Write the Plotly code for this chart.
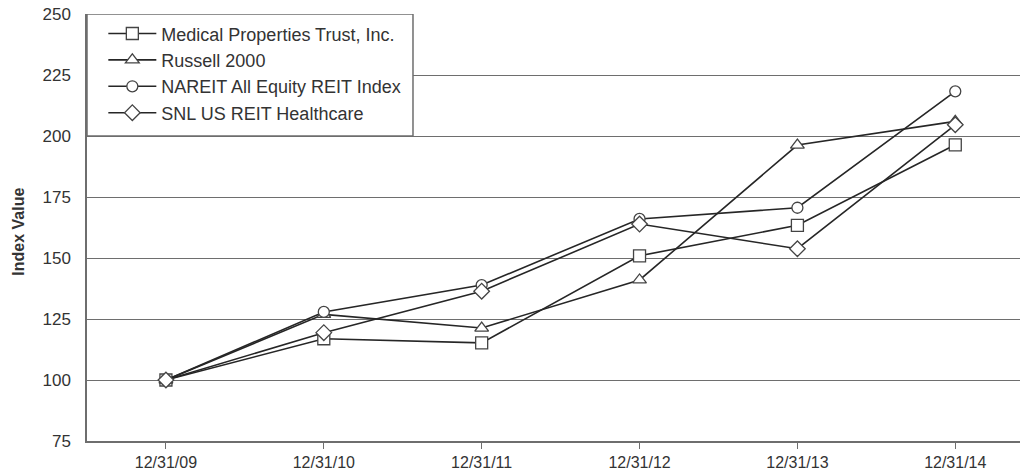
import plotly.graph_objects as go

dates = ["12/31/09", "12/31/10", "12/31/11", "12/31/12", "12/31/13", "12/31/14"]
series_names = ["Medical Properties Trust, Inc.", "Russell 2000",
                "NAREIT All Equity REIT Index", "SNL US REIT Healthcare"]
mpt = [100, 116.9, 115.2, 150.9, 163.4, 196.4]
russell = [100, 126.9, 121.3, 141.0, 196.3, 206.0]
nareit = [100, 127.9, 138.9, 166.0, 170.6, 218.3]
snl = [100, 119.4, 136.4, 163.9, 153.8, 204.6]
y_ticks = [75, 100, 125, 150, 175, 200, 225, 250]

values = [mpt, russell, nareit, snl]
symbols = ["square", "triangle-up", "circle", "diamond"]
sizes = [12, 12, 11, 12]

FONT = "Liberation Sans, Arial, sans-serif"
LINE = "#262626"
GRID = "#6e6e6e"
TEXT = "#333333"

x_idx = list(range(len(dates)))

fig = go.Figure()
for name, vals, sym, sz in zip(series_names, values, symbols, sizes):
    fig.add_trace(go.Scatter(
        x=x_idx, y=vals, name=name, mode="lines+markers",
        line=dict(color=LINE, width=1.6),
        marker=dict(symbol=sym, size=sz, color="white",
                    line=dict(color="#444444", width=1.3)),
    ))

# legend box (covers the gridlines in the legend area)
fig.add_shape(type="rect", xref="paper", yref="y", x0=0, x1=0.3494, y0=200, y1=250,
              line=dict(color=GRID, width=1.5), fillcolor="white", layer="above")

fig.add_annotation(text="<b>Index Value</b>", xref="paper", yref="paper",
                   x=-0.0734, y=0.489, textangle=-90, showarrow=False,
                   xanchor="center", yanchor="middle",
                   font=dict(family=FONT, size=16, color=TEXT))

fig.update_layout(
    width=1020, height=471,
    margin=dict(l=87, r=0, t=14, b=30, autoexpand=False),
    paper_bgcolor="white", plot_bgcolor="white",
    font=dict(family=FONT, size=16, color=TEXT),
    showlegend=True,
    legend=dict(x=0.0175, y=0.997, xanchor="left", yanchor="top",
                bgcolor="rgba(0,0,0,0)", borderwidth=0,
                font=dict(family=FONT, size=18, color=TEXT),
                itemwidth=48),
    xaxis=dict(range=[-0.5, 5.41], tickmode="array", tickvals=x_idx, ticktext=dates,
               showgrid=False, zeroline=False, showline=True, linecolor=GRID,
               linewidth=1.5, ticks="outside", ticklen=6, tickcolor=GRID,
               automargin=False, ticklabelstandoff=0,
               tickfont=dict(family=FONT, size=16, color=TEXT)),
    yaxis=dict(range=[75, 250], tickvals=y_ticks, showgrid=True, gridcolor=GRID,
               gridwidth=1.3, zeroline=False, showline=True, linecolor=GRID,
               linewidth=1.5, ticks="", ticklabelstandoff=11, automargin=False,
               tickfont=dict(family=FONT, size=17, color=TEXT)),
)

fig.write_html("out.html", config={"displayModeBar": False},
               post_script="document.body.style.margin='0';document.body.style.overflow='hidden';")
